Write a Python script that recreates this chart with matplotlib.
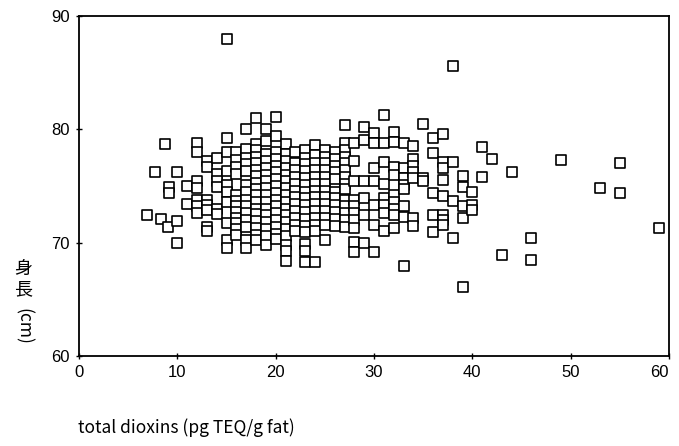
import numpy as np
import matplotlib
matplotlib.use("Agg")
import matplotlib.pyplot as plt
from matplotlib.markers import MarkerStyle

# Column positions (total dioxins, pg TEQ/g fat) and the heights (cm) measured at each
dioxin_cols = [6.9, 7.7, 8.3, 8.7, 9.1, 9.2, 10, 11, 12, 13, 14, 15, 16, 17, 18, 19, 20,
               21, 22, 23, 24, 25, 26, 27, 28, 29, 30, 31, 32, 33, 34, 35, 36, 37, 38,
               39, 40, 41, 42, 43, 44, 46, 49, 53, 55, 59]

h_6_9 = [72.4]
h_7_7 = [76.2]
h_8_3 = [72.1]
h_8_7 = [78.7]
h_9_1 = [71.4]
h_9_2 = [74.9, 74.4]
h_10 = [76.2, 71.9, 70.0]
h_11 = [75.0, 73.4]
h_12 = [78.8, 78.0, 75.4, 74.8, 73.8, 73.2, 72.6]
h_13 = [77.2, 76.7, 73.8, 73.3, 72.9, 71.4, 71.0]
h_14 = [77.5, 76.1, 75.4, 74.9, 73.0, 72.5]
h_15 = [88.0, 79.2, 78.0, 76.3, 75.1, 74.5, 73.6, 71.7, 70.2, 69.5]
h_16 = [78.0, 77.3, 76.7, 76.1, 74.2, 73.7, 73.2, 72.7, 72.2, 71.7, 71.2, 70.7]
h_17 = [80.0, 78.3, 77.5, 76.9, 76.3, 75.1, 74.5, 73.8, 73.2, 72.6, 72.0, 71.4,
        70.2, 69.5]
h_18 = [81.0, 78.7, 78.2, 77.6, 77.0, 76.4, 75.9, 75.3, 74.7, 74.2, 73.6, 73.0,
        72.5, 71.9, 71.3, 70.7, 70.2]
h_19 = [80.0, 79.0, 77.8, 77.2, 76.6, 76.0, 75.4, 74.8, 74.2, 73.6, 73.0, 72.4,
        71.8, 71.2, 70.6, 69.8]
h_20 = [81.1, 79.4, 78.0, 77.4, 76.8, 76.2, 75.6, 75.0, 74.4, 73.8, 73.2, 72.6,
        72.0, 71.4, 70.8, 70.3]
h_21 = [78.7, 77.8, 77.2, 76.6, 76.0, 75.4, 74.8, 74.2, 73.6, 73.0, 72.4, 71.8,
        71.2, 70.6, 69.8, 69.3, 68.4]
h_22 = [78.0, 77.0, 76.4, 75.8, 75.2, 74.6, 74.0, 73.4, 72.8, 72.2, 71.6, 71.0]
h_23 = [78.2, 77.5, 76.9, 76.3, 75.7, 75.1, 74.5, 73.9, 73.3, 72.7, 72.1, 71.5,
        70.9, 69.9, 69.3, 68.3]
h_24 = [78.6, 77.7, 77.0, 76.4, 75.8, 75.2, 74.6, 74.0, 73.4, 72.8, 72.2, 71.6,
        71.0, 68.3]
h_25 = [78.2, 77.6, 77.0, 76.4, 75.8, 75.2, 74.6, 74.0, 73.4, 72.8, 72.2, 71.6, 70.2]
h_26 = [78.0, 77.4, 76.8, 76.2, 75.6, 74.5, 73.9, 73.3, 72.7, 72.1, 71.5]
h_27 = [80.4, 78.8, 78.2, 77.6, 77.0, 76.4, 75.8, 75.2, 74.7, 73.8, 73.2, 72.6,
        72.0, 71.4]
h_28 = [78.8, 77.2, 75.4, 73.8, 73.2, 72.6, 72.0, 71.3, 70.1, 69.2]
h_29 = [80.2, 79.1, 75.4, 73.9, 72.4, 70.0]
h_30 = [79.7, 78.8, 76.6, 75.4, 73.3, 71.6, 69.2]
h_31 = [81.3, 78.8, 77.1, 75.2, 73.9, 73.3, 72.6, 71.0]
h_32 = [79.8, 78.9, 76.7, 76.0, 74.2, 73.6, 73.0, 72.4, 71.3]
h_33 = [78.8, 76.6, 75.7, 75.1, 74.7, 73.2, 72.3, 67.9]
h_34 = [78.5, 77.4, 76.8, 76.2, 75.7, 72.2, 71.5]
h_35 = [80.5, 75.7, 75.4]
h_36 = [79.2, 77.9, 74.4, 72.4, 70.9]
h_37 = [79.6, 77.1, 76.6, 75.5, 74.1, 72.4, 72.0, 71.6]
h_38 = [85.6, 77.1, 73.7, 70.4]
h_39 = [75.9, 74.9, 73.2, 72.2, 66.1]
h_40 = [74.5, 73.3, 72.9]
h_41 = [78.4, 75.8]
h_42 = [77.4]
h_43 = [68.9]
h_44 = [76.2]
h_46 = [70.4, 68.5]
h_49 = [77.3]
h_53 = [74.8]
h_55 = [77.0, 74.4]
h_59 = [71.3]

heights = [h_6_9, h_7_7, h_8_3, h_8_7, h_9_1, h_9_2, h_10, h_11, h_12, h_13, h_14, h_15,
           h_16, h_17, h_18, h_19, h_20, h_21, h_22, h_23, h_24, h_25, h_26, h_27, h_28,
           h_29, h_30, h_31, h_32, h_33, h_34, h_35, h_36, h_37, h_38, h_39, h_40, h_41,
           h_42, h_43, h_44, h_46, h_49, h_53, h_55, h_59]

x = np.concatenate([[c] * len(h) for c, h in zip(dioxin_cols, heights)])
y = np.concatenate(heights)

W, H = 679, 446
fig = plt.figure(figsize=(W / 100, H / 100), dpi=100)
ax = fig.add_axes([79 / W, 1 - 356 / H, (669 - 79) / W, (356 - 16) / H])

ax.plot(x, y, linestyle="none",
        marker=MarkerStyle("s", joinstyle="round"), markersize=6.8,
        markerfacecolor="white", markeredgecolor="black", markeredgewidth=1.2)

ax.set_xlim(0, 60)
ax.set_ylim(60, 90)
ax.set_xticks(range(0, 61, 10))
ax.set_yticks([60, 70, 80, 90])

for lab in ax.get_xticklabels() + ax.get_yticklabels():
    lab.set_family("Liberation Sans")
    lab.set_fontsize(12)
# keep the last x label inside the figure
ax.get_xticklabels()[-1].set_ha("right")
ax.tick_params(direction="inout", length=5, width=1, pad=4)

for s in ax.spines.values():
    s.set_linewidth(1.3)

# axis titles
jp = ["Noto Sans CJK JP", "DejaVu Sans"]
fig.text(78 / W, 1 - 428 / H, "total dioxins (pg TEQ/g fat)", family=jp,
         fontsize=12.5, ha="left", va="center")
fig.text(23 / W, 1 - 269 / H, "身", family=jp, fontsize=13, ha="center", va="center")
fig.text(23 / W, 1 - 289 / H, "長", family=jp, fontsize=13, ha="center", va="center")
fig.text(23 / W, 1 - 326 / H, "(cm)", family=jp, fontsize=12.5, rotation=-90,
         ha="center", va="center")

fig.savefig("out.png", dpi=100)
